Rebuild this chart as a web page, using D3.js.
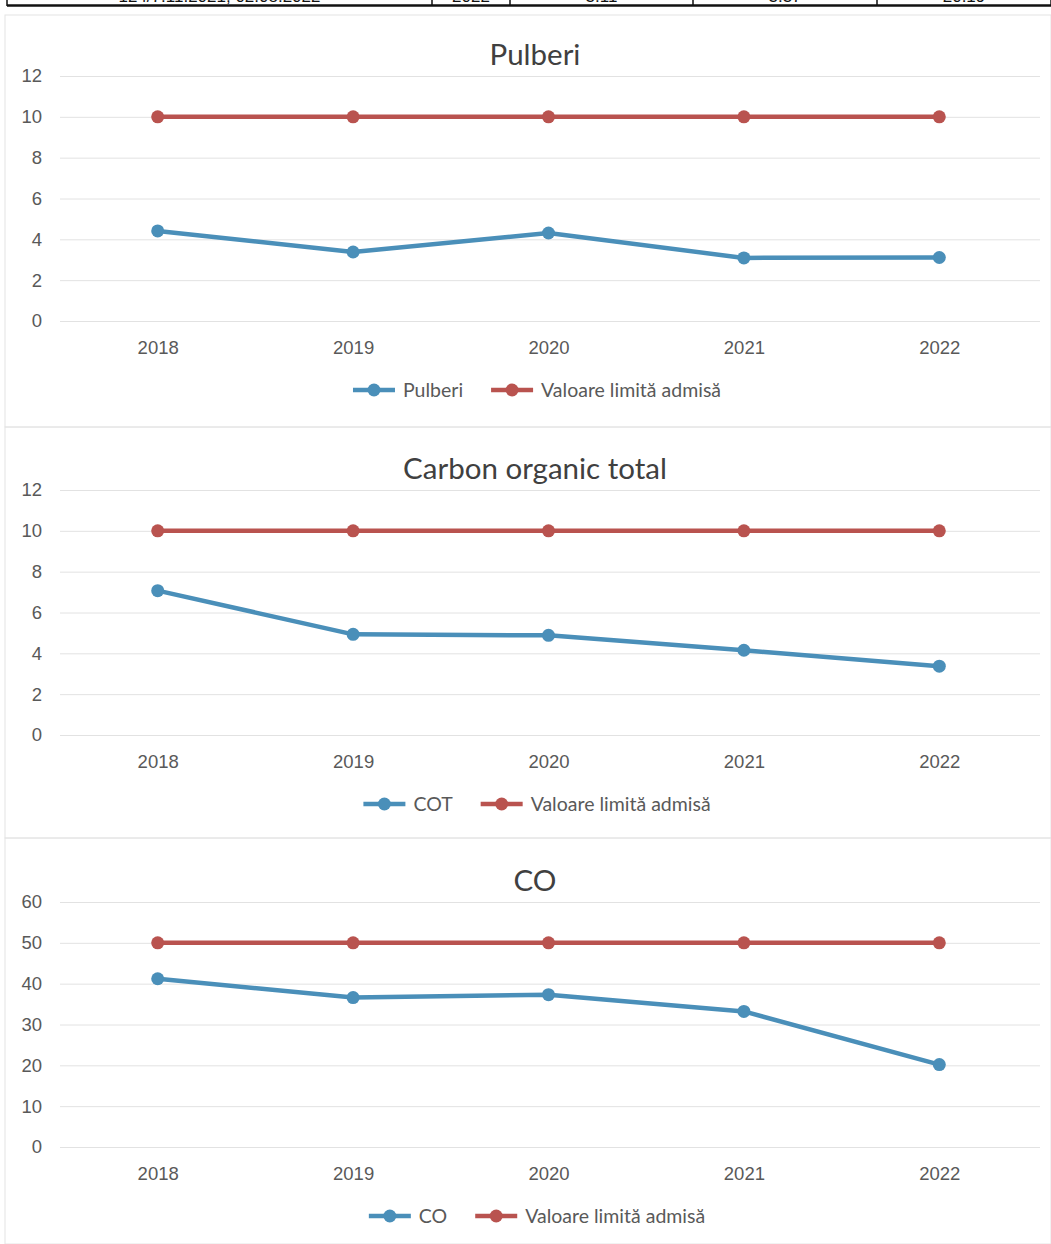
<!DOCTYPE html>
<html lang="ro">
<head>
<meta charset="UTF-8">
<title>Pulberi, COT, CO</title>
<script src="https://d3js.org/d3.v7.min.js"></script>
<style>
  body { margin: 0; background: #fff; }
  svg { display: block; font-family: Lato, "Open Sans", sans-serif; }
  .grid line { stroke: #e2e2e2; stroke-width: 1px; }
  .tick text { fill: #595959; font-size: 18.5px; }
  .title { fill: #404040; font-size: 29.5px; }
  .legend text { fill: #595959; font-size: 19.5px; }
  .table-row text { font-family: "Liberation Sans", Arial, sans-serif; font-size: 17px; fill: #111; }
</style>
</head>
<body>
<div id="chart"></div>
<script>
// categories
const years = ["2018", "2019", "2020", "2021", "2022"];

const pulberi = [4.41, 3.38, 4.31, 3.09, 3.11];
const cot = [7.07, 4.93, 4.88, 4.15, 3.37];
const co = [41.2, 36.6, 37.3, 33.2, 20.19];

// admissible limit values
const limitPulberi = [10, 10, 10, 10, 10];
const limitCot = [10, 10, 10, 10, 10];
const limitCo = [50, 50, 50, 50, 50];

// tick labels
const ticksSmall = [0, 2, 4, 6, 8, 10, 12];
const ticksCo = [0, 10, 20, 30, 40, 50, 60];

// last row of the table above the charts (cut off by the scan)
const tableRow = ["124/7.11.2021; 02.08.2022", "2022", "3.11", "3.37", "20.19"];

const limitLabel = "Valoare limită admisă";
const blue = "#4a8fb9";
const red = "#b9534f";

const width = 1051, height = 1244;
const svg = d3.select("#chart").append("svg")
    .attr("width", width)
    .attr("height", height);

// table row at top
const cols = [7, 432, 510, 693, 877, 1051];
const table = svg.append("g").attr("class", "table-row");
table.selectAll("line.v")
  .data(cols)
  .join("line")
  .attr("x1", d => d).attr("x2", d => d)
  .attr("y1", 0).attr("y2", 6)
  .attr("stroke", "#111").attr("stroke-width", 1.5);
table.append("line")
  .attr("x1", 7).attr("x2", 1051)
  .attr("y1", 5.5).attr("y2", 5.5)
  .attr("stroke", "#111").attr("stroke-width", 2.5);
table.selectAll("text")
  .data(tableRow)
  .join("text")
  .attr("x", (d, i) => (cols[i] + cols[i + 1]) / 2)
  .attr("y", 2)
  .attr("text-anchor", "middle")
  .text(d => d);

// faint frames of the chart boxes
[[5, 15, 1046, 412], [5, 427, 1046, 411], [5, 838, 1046, 406]].forEach(b => {
  svg.append("rect")
    .attr("x", b[0]).attr("y", b[1])
    .attr("width", b[2]).attr("height", b[3])
    .attr("fill", "none")
    .attr("stroke", "#e4e4e4")
    .attr("stroke-width", 1);
});

const x = d3.scalePoint()
    .domain(years)
    .range([60, 1037])
    .padding(0.5);

function drawChart(top, title, series, name, limit, ticks, yMax) {
  const g = svg.append("g").attr("transform", `translate(0,${top})`);
  const y = d3.scaleLinear().domain([0, yMax]).range([321, 76]);

  g.append("text")
    .attr("class", "title")
    .attr("x", 535)
    .attr("y", 65)
    .attr("text-anchor", "middle")
    .text(title);

  // y axis + gridlines
  const yAxis = g.append("g")
    .attr("class", "grid")
    .attr("transform", "translate(60,0)")
    .call(d3.axisLeft(y).tickValues(ticks).tickSize(-980).tickPadding(18));
  yAxis.select(".domain").remove();

  // x axis labels
  const xAxis = g.append("g")
    .attr("transform", "translate(0,321)")
    .call(d3.axisBottom(x).tickSize(0).tickPadding(20));
  xAxis.select(".domain").remove();

  const line = d3.line()
    .x((d, i) => x(years[i]))
    .y(d => y(d));

  [[limit, red], [series, blue]].forEach(([vals, color]) => {
    g.append("path")
      .datum(vals)
      .attr("fill", "none")
      .attr("stroke", color)
      .attr("stroke-width", 4.5)
      .attr("stroke-linejoin", "round")
      .attr("d", line);
    g.selectAll(null)
      .data(vals)
      .join("circle")
      .attr("cx", (d, i) => x(years[i]))
      .attr("cy", d => y(d))
      .attr("r", 6.5)
      .attr("fill", color);
  });

  // legend, centred under the plot
  const legend = g.append("g").attr("class", "legend").attr("transform", "translate(0,390)");
  const items = [[name, blue], [limitLabel, red]];
  const parts = items.map(([label, color]) => {
    const it = legend.append("g");
    it.append("line").attr("x1", 0).attr("x2", 42).attr("y1", 0).attr("y2", 0)
      .attr("stroke", color).attr("stroke-width", 4.5);
    it.append("circle").attr("cx", 21).attr("cy", 0).attr("r", 6.5).attr("fill", color);
    const t = it.append("text").attr("x", 50).attr("y", 7).text(label);
    const w = 50 + t.node().getComputedTextLength();
    return { it, w };
  });
  const gap = 28;
  const total = parts.reduce((s, p) => s + p.w, 0) + gap;
  let cx = 537 - total / 2;
  parts.forEach(p => {
    p.it.attr("transform", `translate(${cx},0)`);
    cx += p.w + gap;
  });
}

drawChart(0, "Pulberi", pulberi, "Pulberi", limitPulberi, ticksSmall, 12);
drawChart(414, "Carbon organic total", cot, "COT", limitCot, ticksSmall, 12);
drawChart(826, "CO", co, "CO", limitCo, ticksCo, 60);
</script>
</body>
</html>
